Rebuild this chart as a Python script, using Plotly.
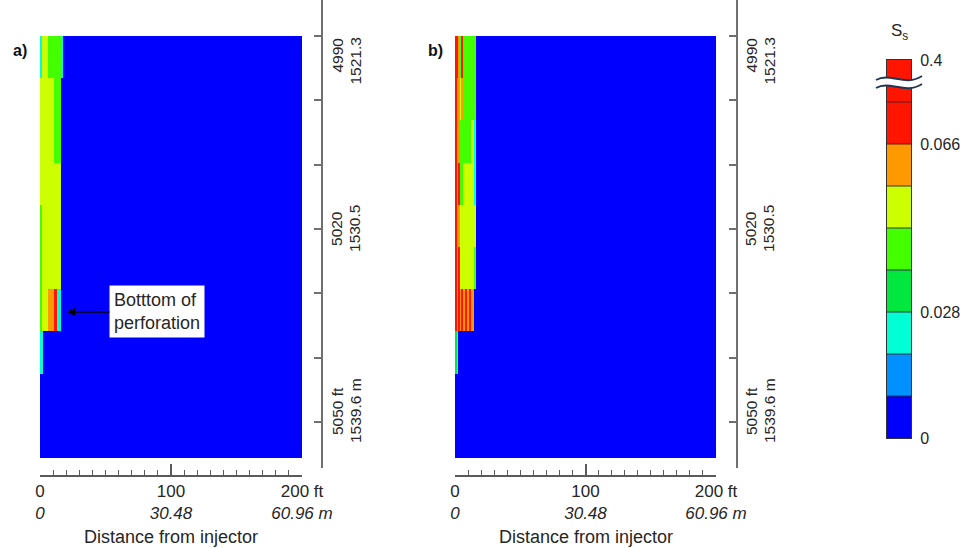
import plotly.graph_objects as go

W, H = 970, 548

# ---------------- data ----------------
# radial cell edges (ft from injector)
x_edges = [0, 1.2, 2.4, 3.6, 4.8, 6.2, 7.8, 9.4, 11, 12.6, 14.2, 16, 17.8, 200]
# depth layer edges (ft): 2 m thick layers starting at 4990 ft
y_edges = [4990.0, 4996.56, 5003.12, 5009.68, 5016.24, 5022.80,
           5029.36, 5035.92, 5042.48, 5049.04, 5055.60]

# saturation class (index into colour levels 0..8), rows = layers, cols = radial cells
sat_a = [
    [2, 5, 5, 5, 5, 4, 4, 4, 4, 4, 4, 2, 0],
    [5, 5, 5, 5, 5, 5, 5, 5, 4, 4, 4, 0, 0],
    [5, 5, 5, 5, 5, 5, 5, 5, 4, 4, 4, 0, 0],
    [5, 5, 5, 5, 5, 5, 5, 5, 5, 5, 5, 0, 0],
    [4, 5, 5, 5, 5, 5, 5, 5, 5, 5, 5, 0, 0],
    [4, 5, 5, 5, 5, 5, 5, 5, 5, 5, 5, 0, 0],
    [4, 5, 5, 5, 5, 6, 6, 6, 7, 2, 2, 0, 0],
    [2, 2, 0, 0, 0, 0, 0, 0, 0, 0, 0, 0, 0],
    [0, 0, 0, 0, 0, 0, 0, 0, 0, 0, 0, 0, 0],
    [0, 0, 0, 0, 0, 0, 0, 0, 0, 0, 0, 0, 0],
]
sat_b = [
    [7, 7, 6, 4, 7, 4, 4, 4, 4, 4, 4, 0, 0],
    [7, 6, 6, 5, 6, 4, 4, 4, 4, 4, 4, 0, 0],
    [7, 6, 6, 4, 4, 4, 4, 4, 4, 5, 2, 0, 0],
    [7, 6, 7, 4, 4, 5, 5, 5, 5, 5, 2, 0, 0],
    [7, 6, 6, 5, 5, 5, 5, 5, 5, 5, 5, 0, 0],
    [7, 6, 7, 5, 5, 5, 5, 5, 5, 5, 4, 0, 0],
    [7, 6, 7, 6, 7, 6, 7, 6, 7, 6, 0, 0, 0],
    [3, 2, 0, 0, 0, 0, 0, 0, 0, 0, 0, 0, 0],
    [0, 0, 0, 0, 0, 0, 0, 0, 0, 0, 0, 0, 0],
    [0, 0, 0, 0, 0, 0, 0, 0, 0, 0, 0, 0, 0],
]

levels = [0, 1, 2, 3, 4, 5, 6, 7, 8]
level_colors = ["#0000FF", "#0090FF", "#00FFD5", "#00E840", "#44FF00",
                "#CCFF00", "#FF9900", "#FF1500", "#FF1500"]
cb_tickvals = [-0.5, 2.5, 6.5, 8.5]
cb_ticktext = ["0", "0.028", "0.066", "0.4"]

x_tickvals = [0, 100, 200]
x_ticktext = ["0<br><i>0</i>", "100<br><i>30.48</i>", "200 ft<br><i>60.96 m</i>"]
depth_ticks = [4990, 5000, 5010, 5020, 5030, 5040, 5050]
depth_labels = [(4990, "4990", "1521.3", "top"),
                (5020, "5020", "1530.5", "middle"),
                (5048.3, "5050 ft", "1539.6 m", "middle")]

# ---------------- helpers ----------------
def X(px):
    return px / W


def Y(py):
    return 1 - py / H


FONT = "Liberation Sans, Arial, sans-serif"
TXT = "#262626"

n = len(level_colors)
colorscale = []
for i, c in enumerate(level_colors):
    colorscale.append([i / n, c])
    colorscale.append([(i + 1) / n, c])

CB_TOP, CB_BOT, CB_L, CB_W = 60, 438, 887, 24

fig = go.Figure()
fig.add_trace(go.Heatmap(
    x=x_edges, y=y_edges, z=sat_a, xaxis="x", yaxis="y",
    colorscale=colorscale, zmin=-0.5, zmax=8.5, showscale=False,
    hoverinfo="skip",
))
fig.add_trace(go.Heatmap(
    x=x_edges, y=y_edges, z=sat_b, xaxis="x2", yaxis="y2",
    colorscale=colorscale, zmin=-0.5, zmax=8.5, showscale=False,
    hoverinfo="skip",
))
# colour key (drawn as its own small heatmap so it does not push margins)
fig.add_trace(go.Heatmap(
    x=[0], y=levels, z=[[v] for v in levels], xaxis="x3", yaxis="y3",
    colorscale=colorscale, zmin=-0.5, zmax=8.5, showscale=False,
    hoverinfo="skip",
))

# depth axis geometry: layer top 4990 ft at px 36, bottom 5055.6 at px 458
px_per_ft = (458 - 36) / (y_edges[-1] - y_edges[0])
y_top = 4990 - 36 / px_per_ft
y_bot = 4990 + (468 - 36) / px_per_ft


def xaxis(dom):
    return dict(
        domain=[X(dom[0]), X(dom[1])], range=[0, 200], anchor="free",
        position=Y(476), showgrid=False, zeroline=False,
        showline=True, linecolor="#5a5a5a", linewidth=1.5,
        ticks="inside", ticklen=11, tickwidth=1.5, tickcolor="#5a5a5a",
        tickvals=x_tickvals, ticktext=x_ticktext,
        tickfont=dict(family=FONT, size=17, color=TXT),
        minor=dict(dtick=10, tick0=0, ticks="inside", ticklen=5,
                   tickwidth=1.2, tickcolor="#5a5a5a", showgrid=False),
    )


def yaxis(pos):
    return dict(
        domain=[Y(468), 1], range=[y_bot, y_top], anchor="free",
        position=X(pos), side="right", showgrid=False, zeroline=False,
        showline=True, linecolor="#707070", linewidth=2,
        ticks="inside", ticklen=7, tickwidth=1.5, tickcolor="#707070",
        tickvals=depth_ticks, showticklabels=False,
    )


annotations = []
for yref, ft_x, m_x in [("y", 337, 355), ("y2", 751, 769)]:
    for depth, ft_txt, m_txt, anch in depth_labels:
        for xx, txt in [(ft_x, ft_txt), (m_x, m_txt)]:
            annotations.append(dict(
                x=X(xx), xref="paper", y=depth, yref=yref, text=txt,
                textangle=-90, showarrow=False, xanchor="center",
                yanchor=anch, font=dict(family=FONT, size=15.5, color=TXT)))

for cx in [171, 586]:
    annotations.append(dict(
        x=X(cx), y=Y(537), xref="paper", yref="paper",
        xanchor="center", yanchor="middle",
        text="Distance from injector", showarrow=False,
        font=dict(family=FONT, size=18, color=TXT)))

for lx, lab in [(20, "a)"), (435, "b)")]:
    annotations.append(dict(x=X(lx), y=Y(50), xref="paper", yref="paper",
                            xanchor="center", yanchor="middle",
                            text=f"<b>{lab}</b>", showarrow=False,
                            font=dict(family=FONT, size=16, color="#111")))
annotations.append(dict(x=X(899), y=Y(32), xref="paper", yref="paper",
                        xanchor="center", yanchor="middle",
                        text="S<sub>s</sub>", showarrow=False,
                        font=dict(family=FONT, size=17, color=TXT)))

annotations.append(dict(
    x=20.6, xref="x", y=5032.9, yref="y", text="Botttom of<br>perforation",
    showarrow=True, ax=90, ay=0, arrowhead=2, arrowsize=1.1, arrowwidth=1.5,
    arrowcolor="black", bgcolor="white", align="left", borderpad=4,
    font=dict(family=FONT, size=18, color=TXT)))

# colour key segment dividers and break mark
shapes = []
for k in range(1, n):
    shapes.append(dict(type="line", xref="x3", yref="y3",
                       x0=-0.5, x1=0.5, y0=k - 0.5, y1=k - 0.5,
                       line=dict(color="#5a1a1a" if k >= 7 else "#333333",
                                 width=1)))


def P(px, py):
    return f"{X(px):.5f},{Y(py):.5f}"


upper = f"M {P(876,80)} C {P(890,72)} {P(905,87)} {P(922,76)}"
lower_rev = f"L {P(922,84)} C {P(905,95)} {P(890,80)} {P(876,88)} Z"
shapes.append(dict(type="path", xref="paper", yref="paper",
                   path=upper + " " + lower_rev, fillcolor="white",
                   line=dict(width=0)))
shapes.append(dict(type="path", xref="paper", yref="paper",
                   path=upper, line=dict(color="#1f3553", width=2)))
shapes.append(dict(type="path", xref="paper", yref="paper",
                   path=f"M {P(876,88)} C {P(890,80)} {P(905,95)} {P(922,84)}",
                   line=dict(color="#1f3553", width=2)))

fig.update_layout(
    width=W, height=H, autosize=False,
    margin=dict(l=0, r=0, t=0, b=0, autoexpand=False),
    paper_bgcolor="white", plot_bgcolor="white",
    xaxis=xaxis((40, 302)), yaxis=yaxis(322),
    xaxis2=xaxis((455, 716)), yaxis2=yaxis(737),
    xaxis3=dict(domain=[X(CB_L), X(CB_L + CB_W)], range=[-0.5, 0.5],
                anchor="y3", showticklabels=False, ticks="", showgrid=False,
                zeroline=False, showline=True, mirror=True,
                linecolor="#333333", linewidth=1),
    yaxis3=dict(domain=[Y(CB_BOT), Y(CB_TOP)], range=[-0.5, 8.5],
                anchor="x3", side="right", showgrid=False, zeroline=False,
                showline=True, mirror=True, linecolor="#333333", linewidth=1,
                tickvals=cb_tickvals, ticktext=cb_ticktext,
                ticks="outside", ticklen=5, tickcolor="rgba(0,0,0,0)",
                tickfont=dict(family=FONT, size=16, color=TXT)),
    annotations=annotations, shapes=shapes, showlegend=False,
    font=dict(family=FONT, color=TXT),
)

fig.write_html("out.html")
